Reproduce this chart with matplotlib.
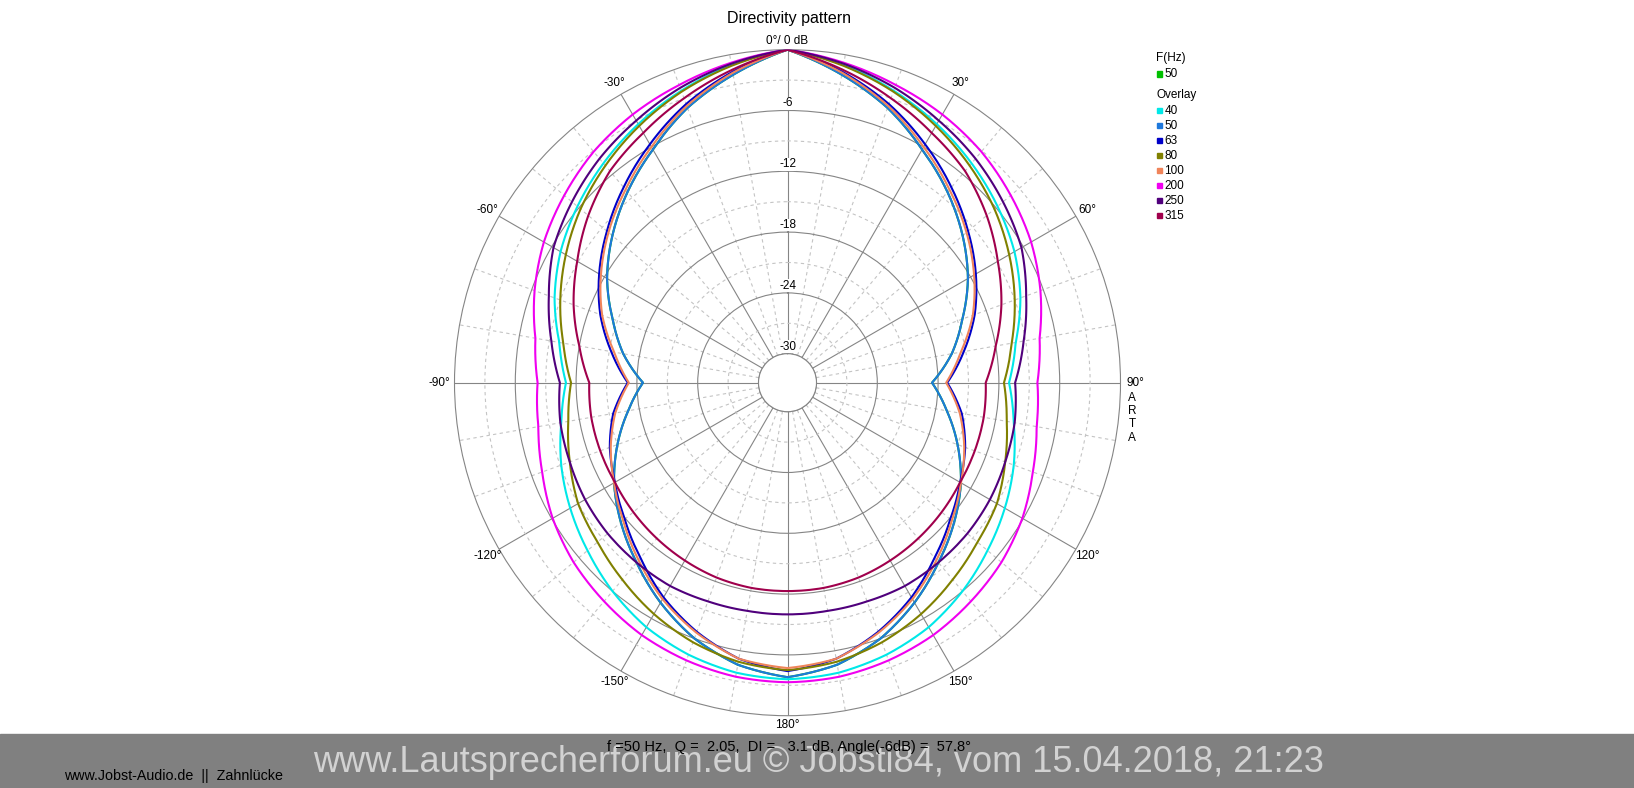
import numpy as np
import matplotlib
matplotlib.use("Agg")
import matplotlib.pyplot as plt
from matplotlib.patches import Rectangle

plt.rcParams['font.family'] = ['Liberation Sans', 'DejaVu Sans']

# ---------------- data (dB relative to 0 deg, symmetric pattern) ----------------
angles_deg = [0, 10, 20, 30, 40, 50, 60, 70, 80, 90, 100, 110, 120, 130, 140, 150, 160, 170, 180]

current_freq = "50"
db_current = [0, -2.0, -4.0, -6.3, -8.3, -10.3, -12.3, -14.5, -16.4, -18.6, -16.9, -15.0, -13.1, -11.4, -9.7, -7.8, -6.0, -4.6, -3.8]

overlay_freqs = ["40", "50", "63", "80", "100", "200", "250", "315"]
db_40 = [0, -1.0, -2.2, -3.4, -4.6, -5.8, -7.0, -8.4, -10.0, -11.0, -10.2, -9.1, -8.1, -7.1, -6.0, -5.0, -4.3, -3.8, -3.6]
db_50 = [0, -2.0, -4.0, -6.3, -8.3, -10.3, -12.3, -14.5, -16.4, -18.6, -16.9, -15.0, -13.1, -11.4, -9.7, -7.8, -6.0, -4.6, -3.8]
db_63 = [0, -1.7, -3.6, -5.7, -7.7, -9.6, -11.4, -13.2, -15.2, -17.1, -15.4, -14.2, -13.2, -11.9, -10.3, -8.4, -6.7, -5.2, -4.4]
db_80 = [0, -1.1, -2.3, -3.6, -4.9, -6.2, -7.6, -9.0, -10.4, -11.5, -10.9, -10.0, -9.0, -8.4, -7.5, -6.5, -5.6, -4.9, -4.5]
db_100 = [0, -1.8, -3.8, -6.0, -8.0, -9.8, -11.6, -13.4, -15.5, -17.2, -15.6, -14.3, -13.1, -11.7, -10.0, -8.2, -6.6, -5.2, -4.7]
db_200 = [0, -0.8, -1.6, -2.3, -3.1, -4.1, -5.1, -6.3, -7.6, -8.2, -7.9, -7.1, -6.1, -5.3, -4.7, -4.1, -3.7, -3.4, -3.3]
db_250 = [0, -0.9, -1.9, -3.0, -4.0, -5.1, -6.2, -7.8, -9.2, -10.4, -10.1, -10.0, -9.8, -9.7, -9.7, -9.7, -9.9, -10.0, -10.0]
db_315 = [0, -1.5, -3.0, -4.4, -5.6, -7.2, -8.9, -10.4, -12.0, -13.3, -13.2, -13.2, -13.2, -13.0, -12.8, -12.6, -12.4, -12.3, -12.3]
overlay_data = [db_40, db_50, db_63, db_80, db_100, db_200, db_250, db_315]

major_rings = [-30, -24, -18, -12, -6]
ring_labels = ["-30", "-24", "-18", "-12", "-6"]
minor_rings = [-27, -21, -15, -9, -3]
theta_major = [0, 30, 60, 90, 120, 150, 180, 210, 240, 270, 300, 330]
theta_labels = ["0°/ 0 dB", "30°", "60°", "90°", "120°", "150°", "180°",
                "-150°", "-120°", "-90°", "-60°", "-30°"]

# ---------------- styles ----------------
current_color = "#00c000"
overlay_colors = ["#00e8e8", "#1e78dc", "#0000c8", "#808000", "#f0845a",
                  "#f000f0", "#50007c", "#a0004c"]

W, H = 1634, 788
fig = plt.figure(figsize=(W / 100, H / 100), dpi=100)

cx, cy, R = 787.5, 382.7, 333.0
ax = fig.add_axes([(cx - R) / W, (H - cy - R) / H, 2 * R / W, 2 * R / H], projection="polar")
ax.set_theta_zero_location("N")
ax.set_theta_direction(-1)
ax.set_ylim(-30, 0)
ax.set_rorigin(-30 - 29.0 / (304.0 / 30.0))

ax.set_xticks(np.deg2rad(theta_major))
ax.set_xticks(np.deg2rad([a for a in range(0, 360, 10) if a % 30]), minor=True)
ax.set_yticks(major_rings)
ax.set_yticks(minor_rings, minor=True)
ax.set_xticklabels([])
ax.set_yticklabels([])
ax.tick_params(which="both", length=0)
ax.grid(True, which="major", color="#858585", lw=0.8, ls="-")
ax.grid(True, which="minor", color="#c4c4c4", lw=0.8, ls=(0, (3, 3)))
for sp in ax.spines.values():
    sp.set_color("#858585")
    sp.set_linewidth(0.8)


def full_loop(vals):
    a = np.array(angles_deg, dtype=float)
    v = np.array(vals, dtype=float)
    th = np.concatenate([a, 360 - a[::-1][1:]])
    rr = np.concatenate([v, v[::-1][1:]])
    return np.deg2rad(th), rr


def draw(vals, col, z):
    th, rr = full_loop(vals)
    ln, = ax.plot(th, rr, color=col, lw=1.5, zorder=z)
    # let the polar transform render each segment as a smooth polar curve
    ln.get_path()._interpolation_steps = 24
    return ln


draw(db_current, current_color, 3)
for vals, col in zip(overlay_data, overlay_colors):
    draw(vals, col, 4)

# radial labels along 0 deg line
for lvl, lab in zip(major_rings, ring_labels):
    ax.text(0, lvl + 0.7, lab, ha="center", va="center", fontsize=8.5, color="black",
            bbox=dict(facecolor="white", edgecolor="none", pad=0.3), zorder=5)

# ---------------- overlay in pixel coordinates ----------------
ov = fig.add_axes([0, 0, 1, 1], facecolor="none")
ov.set_xlim(0, W)
ov.set_ylim(H, 0)
ov.axis("off")

ov.text(789, 18, "Directivity pattern", ha="center", va="center", fontsize=11.5)

for ang, lab in zip(theta_major, theta_labels):
    off = 9 if ang in (0, 180) else 13
    if ang in (90, 270):
        off = 15
    t = np.deg2rad(ang)
    x = cx + (R + off) * np.sin(t)
    y = cy - (R + off) * np.cos(t)
    ov.text(x, y, lab, ha="center", va="center", fontsize=8.5)

for i, ch in enumerate("ARTA"):
    ov.text(1132, 398 + i * 13.2, ch, ha="center", va="center", fontsize=8.5)

# legend
lx, sq = 1159.3, 5.5
ov.text(1156.5, 58, "F(Hz)", ha="left", va="center", fontsize=8.5)
ov.add_patch(Rectangle((lx - sq / 2, 74 - sq / 2), sq, sq, color=current_color))
ov.text(1164.5, 74, current_freq, ha="left", va="center", fontsize=8.5)
ov.text(1156.5, 95, "Overlay", ha="left", va="center", fontsize=8.5)
for i, (f, col) in enumerate(zip(overlay_freqs, overlay_colors)):
    y = 110.7 + i * 15.0
    ov.add_patch(Rectangle((lx - sq / 2, y - sq / 2), sq, sq, color=col))
    ov.text(1164.5, y, f, ha="left", va="center", fontsize=8.5)

# bottom band
ov.add_patch(Rectangle((0, 734), W, H - 734, color="#808080", zorder=0))
ov.text(818, 762, "www.Lautsprecherforum.eu © Jobsti84, vom 15.04.2018, 21:23",
        ha="center", va="center", fontsize=26, color="#d2d2d2", zorder=2)
ov.text(789, 747, "f =50 Hz,  Q =  2.05,  DI =   3.1 dB, Angle(-6dB) =  57.8°",
        ha="center", va="center", fontsize=10.5, color="black", zorder=3)
ov.text(64, 776, "www.Jobst-Audio.de  ||  Zahnlücke", ha="left", va="center",
        fontsize=10.3, color="black", zorder=3)

fig.savefig("out.png", dpi=100)
